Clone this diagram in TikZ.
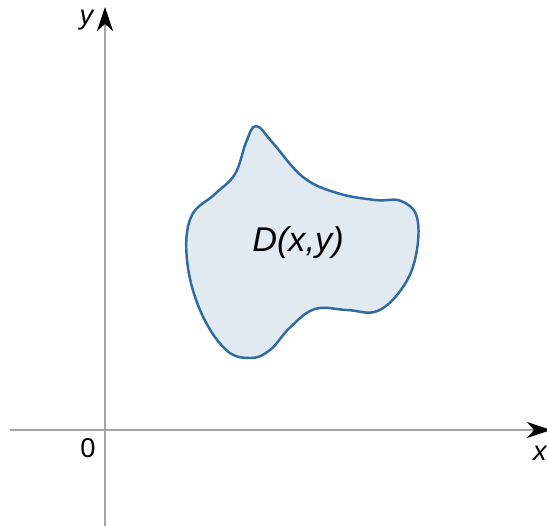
\documentclass[tikz,border=0pt]{standalone}
\usepackage{fontspec}
\setmainfont{Liberation Sans}
\usetikzlibrary{arrows.meta,positioning}
\definecolor{regionfill}{HTML}{E1E9F1}
\definecolor{regionline}{HTML}{2F6AA3}
\definecolor{axisgray}{HTML}{A3A3A3}

\begin{document}
\begin{tikzpicture}[
  axis/.style={draw=axisgray,line width=1.1pt,
    -{Stealth[black,length=4.8mm,width=3.2mm,inset=1.4mm]}},
  region/.style={fill=regionfill,draw=regionline,line width=1.4pt},
  every node/.style={inner sep=0pt,font=\fontsize{15.5}{17}\selectfont},
]
\useasboundingbox (-2.1,-1.9) rectangle (8.84,8.6);

% the axes
\coordinate (xl) at (-1.9,0);
\coordinate (xr) at (8.92,0);
\coordinate (yb) at (0,-1.95);
\coordinate (yt) at (0,8.46);
\draw[axis] (xl) -- (xr);
\draw[axis] (yb) -- (yt);

% axis labels
\node (ylab) at (-0.37,8.2) {\itshape y};
\node (xlab) at (8.7,-0.46) {\itshape x};
\node (orig) at (-0.34,-0.37) {0};

% the region D
\draw[region] plot[smooth cycle,tension=0.65] coordinates {
  (3.02,6.08) (3.35,5.75) (3.96,5.06) (4.64,4.74) (5.4,4.6) (5.92,4.58)
  (6.24,4.25) (6.22,3.5) (5.96,2.86) (5.45,2.38) (4.84,2.4) (4.2,2.42)
  (3.7,2.05) (3.3,1.6) (2.9,1.44) (2.4,1.62) (1.9,2.4) (1.64,3.4)
  (1.72,4.26) (2.2,4.72) (2.6,5.12) (2.82,5.75)};
\node[font=\fontsize{19.5}{22}\selectfont] (dlab) at (3.86,3.74) {\itshape D(x,y)};
\end{tikzpicture}
\end{document}
